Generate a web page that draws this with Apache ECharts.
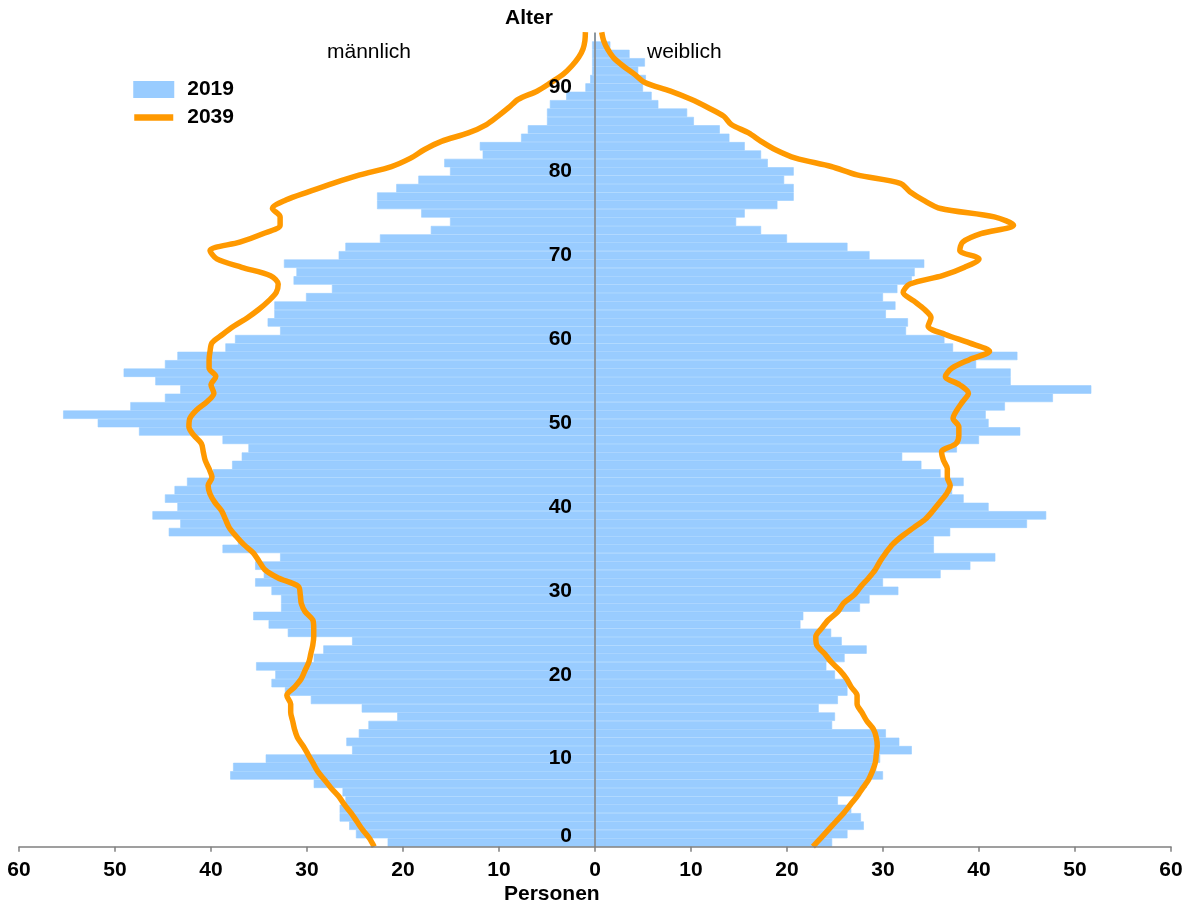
<!DOCTYPE html>
<html><head><meta charset="utf-8">
<script src="https://cdn.jsdelivr.net/npm/echarts@6/dist/echarts.min.js"></script>
<style>html,body{margin:0;padding:0;background:#fff}#c{width:1192px;height:909px}</style>
</head><body><div id="c"></div>
<script>
// Age categories 0..96
const ages = [];
for (let a = 0; a <= 96; a++) ages.push(String(a));

// 2019 population (bars), index = age
const male2019 = [21.6,24.9,25.6,26.6,26.6,26.0,26.3,29.3,38.0,37.7,
 34.3,25.3,25.9,24.6,23.6,20.6,24.3,29.6,32.3,33.7,
 33.3,35.3,29.3,28.3,25.3,32.0,34.0,35.6,32.7,32.7,
 33.7,35.4,34.5,35.4,32.8,38.8,37.2,44.4,43.2,46.1,
 43.5,44.8,43.8,42.5,39.8,37.8,36.8,36.1,38.8,47.5,
 51.8,55.4,48.4,44.8,43.2,45.8,49.1,44.8,43.5,38.5,
 37.5,32.8,34.1,33.4,33.4,30.1,27.4,31.4,31.1,32.4,
 26.7,26.0,22.4,17.1,15.1,18.1,22.7,22.7,20.7,18.4,
 15.1,15.7,11.7,12.0,7.7,7.0,5.0,5.0,4.7,3.0,
 1.0,0.5,0.3,0.3,0.3,0.3,0];
const female2019 = [24.7,26.3,28.0,27.7,26.7,25.3,27.7,28.3,30.0,29.3,
 29.7,33.0,31.7,30.3,24.7,25.0,23.3,25.3,26.3,26.3,
 25.0,24.1,26.0,28.3,25.7,24.6,21.4,21.7,27.6,28.6,
 31.6,30.0,36.0,39.1,41.7,35.3,35.3,37.0,45.0,47.0,
 41.0,38.4,37.2,38.4,36.0,34.0,32.0,37.7,40.0,44.3,
 41.0,40.7,42.7,47.7,51.7,43.3,43.3,39.7,44.0,37.3,
 36.4,32.4,32.6,30.3,31.3,30.0,31.5,33.0,33.3,34.3,
 28.6,26.3,20.0,17.3,14.7,15.6,19.0,20.7,20.7,19.7,
 20.7,18.0,17.3,15.6,14.0,13.0,10.3,9.6,6.6,5.9,
 5.0,5.3,4.5,5.2,3.6,1.6,0];

// 2039 projection (lines), index = age 0..97
const male2039 = [23.0,23.5,24.2,24.8,25.4,26.1,26.7,27.5,28.2,28.9,
 29.4,29.9,30.4,31.0,31.3,31.5,31.7,31.7,32.1,31.3,
 30.6,30.2,29.8,29.6,29.4,29.3,29.3,29.4,30.2,30.6,
 30.7,30.9,33.0,34.4,35.0,35.6,36.6,37.4,38.1,38.5,
 38.9,39.6,40.1,40.3,39.9,40.2,40.6,40.8,41.0,41.8,
 42.3,42.2,41.5,40.4,39.7,40.0,39.5,40.2,40.2,40.1,
 39.9,38.8,37.6,36.2,35.0,34.0,33.2,33.0,33.8,36.8,
 39.4,40.1,37.0,34.6,32.8,32.8,33.6,32.2,29.8,27.3,
 24.5,21.2,19.2,17.8,16.0,13.2,11.3,10.1,9.0,8.0,
 6.0,4.6,3.3,2.4,1.7,1.25,1.05,1.0];
const female2039 = [22.7,23.5,24.3,25.1,25.9,26.6,27.3,27.9,28.5,28.9,
 29.2,29.3,29.4,29.3,29.0,28.3,27.8,27.3,27.3,26.7,
 26.2,25.5,24.6,23.9,23.1,23.0,23.6,24.3,25.3,25.9,
 27.0,27.7,28.5,29.2,29.7,30.3,31.0,32.0,33.2,34.4,
 35.2,35.9,36.6,37.0,36.7,36.7,36.3,36.1,37.6,37.9,
 37.9,37.3,37.7,38.3,38.9,38.0,36.5,37.2,39.0,41.1,
 39.0,36.5,34.7,35.0,34.3,33.2,32.1,32.8,36.2,38.5,
 40.0,38.0,38.3,40.2,43.6,41.6,36.0,34.2,32.8,31.8,
 27.3,24.6,20.9,18.8,17.3,16.0,14.2,13.4,11.8,10.0,
 7.8,5.2,4.1,2.9,1.9,1.3,0.9,0.7];

const xTicks = [-60,-50,-40,-30,-20,-10,0,10,20,30,40,50,60];

const FONT = "'Liberation Sans', Arial, sans-serif";
const BLUE = '#99CCFF', ORANGE = '#FF9900', GREY = '#808080';

const GRID_LEFT = 19, GRID_RIGHT = 21, W = 1192;
const plotW = W - GRID_LEFT - GRID_RIGHT;

const chart = echarts.init(document.getElementById('c'));
chart.setOption({
  animation: false,
  backgroundColor: '#fff',
  textStyle: { fontFamily: FONT },
  grid: { left: GRID_LEFT, right: GRID_RIGHT, top: 33, bottom: 62.3, containLabel: false, outerBoundsMode: 'none' },
  legend: {
    orient: 'vertical', left: 131, top: 79, padding: 0,
    itemWidth: 39, itemHeight: 15, itemGap: 7,
    data: [
      { name: '2019', icon: 'rect' },
      { name: '2039', itemStyle: { opacity: 0 }, lineStyle: { width: 6.5, color: ORANGE } }
    ],
    textStyle: { fontFamily: FONT, fontWeight: 'bold', fontSize: 21, color: '#000', lineHeight: 15, padding: [0, 0, 0, 9] }
  },
  xAxis: {
    type: 'value', min: xTicks[0], max: xTicks[xTicks.length - 1], interval: 10, z: 10,
    axisLine: { show: true, onZero: false, lineStyle: { color: GREY, width: 1.5 } },
    axisTick: { show: true, length: 5, lineStyle: { color: GREY, width: 1.5 } },
    splitLine: { show: false },
    axisLabel: { margin: 13, color: '#000', fontWeight: 'bold', fontSize: 21, fontFamily: FONT,
      formatter: v => String(Math.abs(v)) }
  },
  yAxis: [{
    type: 'category', data: ages, boundaryGap: true, position: 'left', z: 10,
    offset: -plotW / 2,
    axisLine: { show: true, onZero: false, lineStyle: { color: GREY, width: 1.5 } },
    axisTick: { show: false },
    splitLine: { show: false },
    axisLabel: { interval: 9, margin: 23, color: '#000', fontWeight: 'bold', fontSize: 21, fontFamily: FONT,
      formatter: v => v === '0' ? '{z|0}' : v,
      rich: { z: { fontWeight: 'bold', fontSize: 21, fontFamily: FONT, color: '#000', padding: [0, 0, 12, 0] } } }
  }, {
    type: 'value', min: 0, max: 96.9, show: false
  }],
  graphic: [
    { type: 'text', left: 505, top: 8, style: { text: 'Alter', font: 'bold 21px ' + FONT, fill: '#000' } },
    { type: 'text', left: 327, top: 42, style: { text: 'männlich', font: '21px ' + FONT, fill: '#000' } },
    { type: 'text', left: 647, top: 42, style: { text: 'weiblich', font: '21px ' + FONT, fill: '#000' } },
    { type: 'text', left: 504, top: 884, style: { text: 'Personen', font: 'bold 21px ' + FONT, fill: '#000' } }
  ],
  series: [
    { name: '2019', type: 'bar', stack: 'pop', yAxisIndex: 0, barCategoryGap: '0%',
      itemStyle: { color: BLUE, borderColor: BLUE, borderWidth: 0.6 },
      data: male2019.map(v => -v) },
    { name: '2019', type: 'bar', stack: 'pop', yAxisIndex: 0, barCategoryGap: '0%',
      itemStyle: { color: BLUE, borderColor: BLUE, borderWidth: 0.6 },
      data: female2019 },
    { name: '2039', type: 'line', yAxisIndex: 1, smooth: 0.3, symbol: 'none', z: 5,
      lineStyle: { color: ORANGE, width: 5.5 }, itemStyle: { color: ORANGE },
      data: male2039.map((v, i) => [-v, i]) },
    { name: '2039', type: 'line', yAxisIndex: 1, smooth: 0.3, symbol: 'none', z: 5,
      lineStyle: { color: ORANGE, width: 5.5 }, itemStyle: { color: ORANGE },
      data: female2039.map((v, i) => [v, i]) }
  ]
});
</script>
</body></html>
